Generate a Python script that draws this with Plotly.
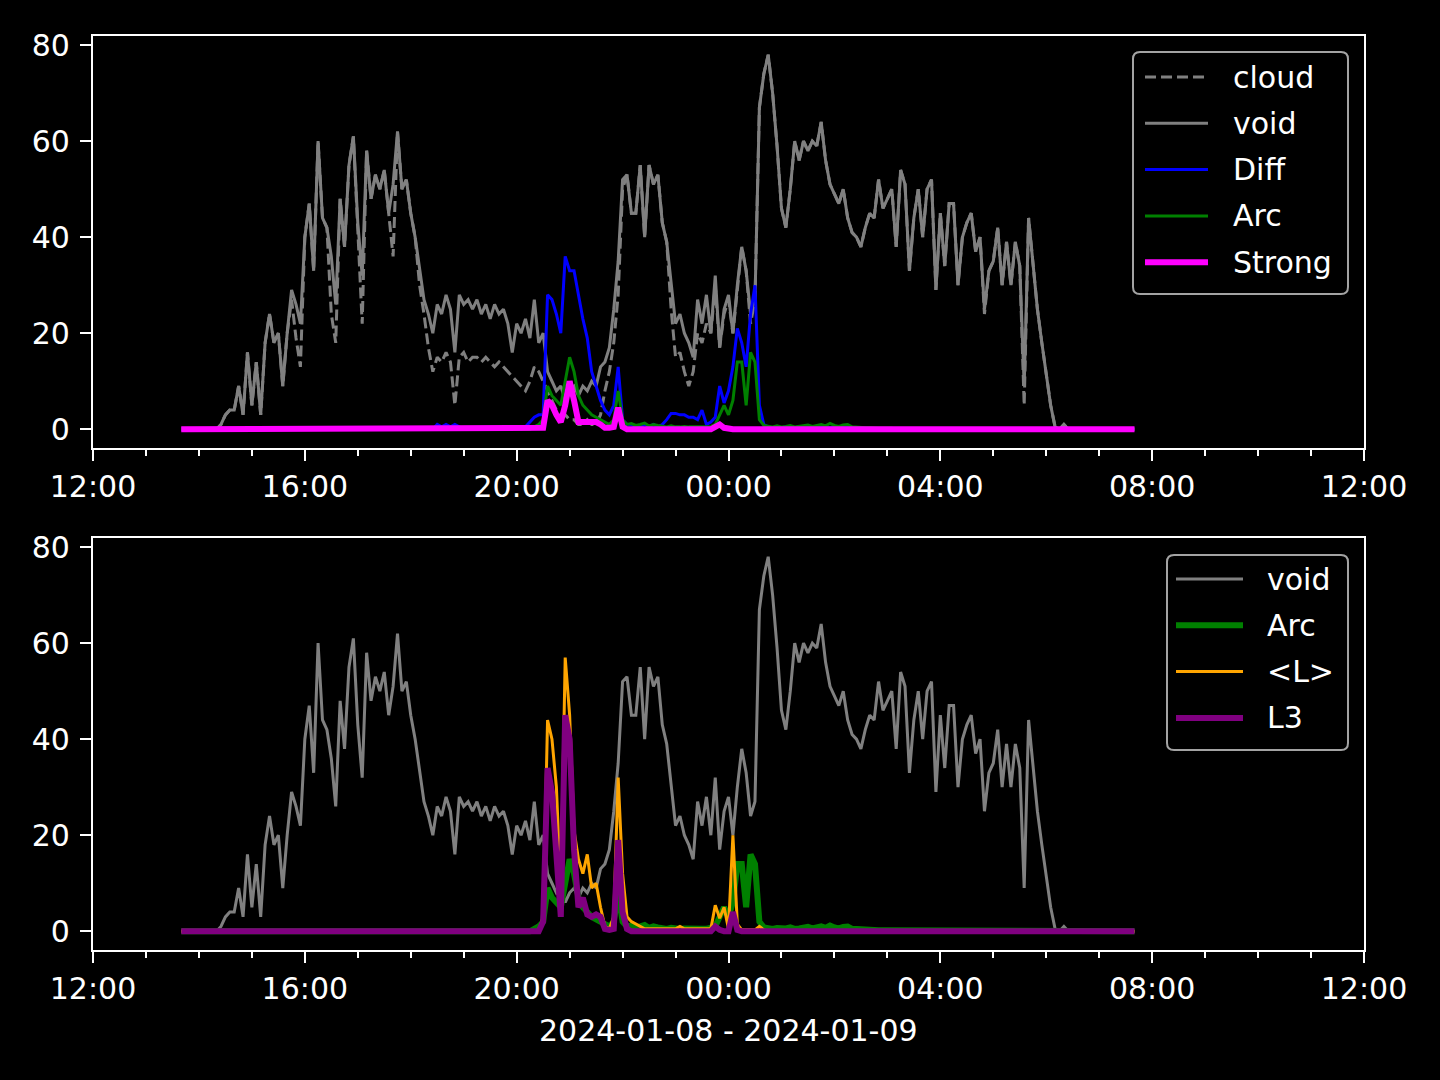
import pandas as pd
import plotly.graph_objects as go
from plotly.subplots import make_subplots

# ---------------- data (5-minute samples, 13:40 on 2024-01-08 to 07:40 on 2024-01-09) ----------------
start_time = "2024-01-08 13:40"
sample_step = "5min"

# each row = one hour (12 samples)
void = [
    0, 0, 0, 0, 0, 0, 0, 0, 0, 1, 3, 4,
    4, 9, 3, 16, 5, 14, 3, 18, 24, 18, 20, 9,
    20, 29, 26, 22, 40, 47, 33, 60, 44, 42, 36, 26,
    48, 38, 55, 61, 43, 32, 58, 48, 53, 50, 54, 45,
    51, 62, 50, 52, 45, 40, 33, 27, 24, 20, 26, 24,
    28, 25, 16, 28, 26, 27, 25, 27, 24, 26, 23, 26,
    24, 25, 22, 16, 22, 20, 23, 19, 27, 18, 20, 12,
    10, 8, 9, 6, 8, 9, 7, 9, 8, 10, 9, 13,
    14, 17, 25, 35, 52, 53, 45, 45, 55, 40, 55, 51,
    53, 43, 39, 30, 22, 24, 20, 18, 15, 27, 22, 28,
    20, 32, 17, 25, 28, 20, 30, 38, 33, 24, 27, 67,
    74, 78, 70, 59, 46, 42, 50, 60, 56, 60, 58, 60,
    59, 64, 56, 51, 49, 47, 50, 44, 41, 40, 38, 42,
    45, 44, 52, 46, 48, 50, 38, 54, 51, 33, 44, 50,
    40, 50, 52, 29, 45, 34, 47, 47, 30, 40, 43, 45,
    37, 40, 25, 33, 35, 42, 30, 39, 30, 39, 34, 9,
    44, 35, 25, 18, 12, 5, 0.5, 0, 1, 0, 0, 0,
    0, 0, 0, 0, 0, 0, 0, 0, 0, 0, 0, 0,
    0,
]

cloud = [
    0, 0, 0, 0, 0, 0, 0, 0, 0, 1, 3, 4,
    4, 9, 3, 16, 5, 14, 3, 18, 24, 18, 20, 9,
    20, 27, 19, 13, 40, 47, 33, 60, 44, 42, 24, 18,
    48, 38, 55, 61, 40, 22, 58, 48, 53, 50, 54, 45,
    36, 62, 50, 52, 45, 40, 30, 24, 17, 12, 15, 14,
    16, 14, 5, 15, 16, 14, 15, 15, 14, 15, 14, 13,
    14, 13, 12, 11, 10, 9, 8, 10, 13, 12, 10, 8,
    6, 4, 3, 3, 2, 2, 1, 1, 2, 1, 1, 3,
    8, 12, 18, 28, 50, 53, 45, 45, 55, 40, 55, 51,
    53, 43, 39, 25, 15, 16, 12, 9, 12, 20, 18, 22,
    20, 30, 17, 24, 27, 20, 29, 38, 33, 22, 27, 67,
    74, 78, 70, 59, 46, 42, 50, 60, 56, 60, 58, 60,
    59, 64, 56, 51, 49, 47, 50, 44, 41, 40, 38, 42,
    45, 44, 52, 46, 48, 50, 38, 54, 51, 33, 44, 50,
    40, 50, 52, 29, 45, 34, 47, 47, 30, 40, 43, 45,
    37, 40, 24, 33, 35, 42, 30, 39, 30, 39, 34, 5,
    44, 35, 25, 18, 12, 5, 0.5, 0, 1, 0, 0, 0,
    0, 0, 0, 0, 0, 0, 0, 0, 0, 0, 0, 0,
    0,
]

diff = [
    0, 0, 0, 0, 0, 0, 0, 0, 0, 0, 0, 0,
    0, 0, 0, 0, 0, 0, 0, 0, 0, 0, 0, 0,
    0, 0, 0, 0, 0, 0, 0, 0, 0, 0, 0, 0,
    0, 0, 0, 0, 0, 0, 0, 0, 0, 0, 0, 0,
    0, 0, 0, 0, 0, 0, 0, 0, 0, 0, 1, 0.5,
    1, 0.5, 1, 0.5, 0, 0, 0, 0, 0, 0, 0, 0,
    0, 0, 0, 0, 0.3, 0, 0.5, 1.5, 2.5, 3, 3, 28,
    27, 24, 20, 36, 33, 33, 28, 23, 19, 12, 9, 6,
    4, 3, 5, 13, 2, 1, 1, 0.5, 0.5, 1, 0.5, 1,
    0.5, 1, 2, 3.3, 3.3, 3, 3, 2.5, 2.5, 2, 4, 1,
    1.5, 2.5, 9, 5.5, 8, 13, 21, 18, 13, 24, 30, 5,
    1, 0.5, 0.3, 0.3, 0.3, 0.5, 0.3, 0.3, 0.5, 0.3, 0.3, 0.3,
    0.3, 0.3, 0.3, 0.3, 0.3, 0.5, 0.3, 0.3, 0.3, 0.2, 0.2, 0.2,
    0, 0, 0, 0, 0, 0, 0, 0, 0, 0, 0, 0,
    0, 0, 0, 0, 0, 0, 0, 0, 0, 0, 0, 0,
    0, 0, 0, 0, 0, 0, 0, 0, 0, 0, 0, 0,
    0, 0, 0, 0, 0, 0, 0, 0, 0, 0, 0, 0,
    0, 0, 0, 0, 0, 0, 0, 0, 0, 0, 0, 0,
    0,
]

arc = [
    0, 0, 0, 0, 0, 0, 0, 0, 0, 0, 0, 0,
    0, 0, 0, 0, 0, 0, 0, 0, 0, 0, 0, 0,
    0, 0, 0, 0, 0, 0, 0, 0, 0, 0, 0, 0,
    0, 0, 0, 0, 0, 0, 0, 0, 0, 0, 0, 0,
    0, 0, 0, 0, 0, 0, 0, 0, 0, 0, 0, 0,
    0, 0, 0, 0, 0, 0, 0, 0, 0, 0, 0, 0,
    0, 0, 0, 0, 0, 0, 0, 0, 0.5, 1, 2, 9,
    7, 6, 5, 10, 15, 12, 7, 5, 4, 3, 2.5, 2,
    1.5, 1, 2, 8, 2, 1, 1.2, 0.8, 1, 1.3, 0.7, 1,
    0.8, 0.6, 0.5, 0.7, 0.5, 0.5, 0.6, 0.5, 0.5, 0.6, 0.5, 0.5,
    0.6, 1, 3, 5, 3, 6, 14, 14, 5, 16, 14, 2,
    0.8, 0.6, 0.5, 0.7, 0.5, 0.6, 0.8, 0.5, 0.6, 0.7, 0.9, 0.6,
    0.8, 1, 0.7, 1.2, 0.8, 0.6, 0.9, 1, 0.5, 0.4, 0.3, 0.3,
    0.3, 0.2, 0.2, 0.2, 0.2, 0.2, 0, 0, 0, 0, 0, 0,
    0, 0, 0, 0, 0, 0, 0, 0, 0, 0, 0, 0,
    0, 0, 0, 0, 0, 0, 0, 0, 0, 0, 0, 0,
    0, 0, 0, 0, 0, 0, 0, 0, 0, 0, 0, 0,
    0, 0, 0, 0, 0, 0, 0, 0, 0, 0, 0, 0,
    0,
]

strong = [
    0, 0, 0, 0, 0, 0, 0, 0, 0, 0, 0, 0,
    0, 0, 0, 0, 0, 0, 0, 0, 0, 0, 0, 0,
    0, 0, 0, 0, 0, 0, 0, 0, 0, 0, 0, 0,
    0, 0, 0, 0, 0, 0, 0, 0, 0, 0, 0, 0,
    0, 0, 0, 0, 0, 0, 0, 0, 0, 0, 0, 0,
    0, 0, 0, 0, 0, 0, 0, 0, 0, 0, 0, 0,
    0, 0, 0, 0, 0, 0, 0, 0, 0, 0, 0.3, 6,
    5, 3, 1.5, 5, 10, 6, 1.5, 1.5, 1.5, 1.7, 1.5, 1,
    0.3, 0.3, 0.5, 4.5, 0.5, 0, 0, 0, 0, 0, 0, 0,
    0, 0, 0, 0, 0, 0, 0, 0, 0, 0, 0, 0,
    0, 0.5, 1, 0.3, 0, 0, 0, 0, 0, 0, 0, 0,
    0, 0, 0, 0, 0, 0, 0, 0, 0, 0, 0, 0,
    0, 0, 0, 0, 0, 0, 0, 0, 0, 0, 0, 0,
    0, 0, 0, 0, 0, 0, 0, 0, 0, 0, 0, 0,
    0, 0, 0, 0, 0, 0, 0, 0, 0, 0, 0, 0,
    0, 0, 0, 0, 0, 0, 0, 0, 0, 0, 0, 0,
    0, 0, 0, 0, 0, 0, 0, 0, 0, 0, 0, 0,
    0, 0, 0, 0, 0, 0, 0, 0, 0, 0, 0, 0,
    0,
]

mean_l = [
    0, 0, 0, 0, 0, 0, 0, 0, 0, 0, 0, 0,
    0, 0, 0, 0, 0, 0, 0, 0, 0, 0, 0, 0,
    0, 0, 0, 0, 0, 0, 0, 0, 0, 0, 0, 0,
    0, 0, 0, 0, 0, 0, 0, 0, 0, 0, 0, 0,
    0, 0, 0, 0, 0, 0, 0, 0, 0, 0, 0, 0,
    0, 0, 0, 0, 0, 0, 0, 0, 0, 0, 0, 0,
    0, 0, 0, 0, 0, 0, 0, 0, 0, 0, 3, 44,
    40, 30, 8, 57, 45, 21, 15, 12, 16, 9, 10, 5,
    1, 0.5, 3, 32, 12, 3, 2, 1.5, 1, 0.5, 0.5, 0.5,
    0.5, 0.5, 0.5, 0.5, 0.5, 1, 0.5, 0.5, 0.5, 0.5, 0.5, 0.5,
    0.5, 5.4, 2.7, 5, 0.5, 20, 1.5, 0.3, 0.3, 0.3, 0.3, 1,
    0.3, 0, 0, 0, 0, 0, 0, 0, 0, 0, 0, 0,
    0, 0, 0, 0, 0, 0, 0, 0, 0, 0, 0, 0,
    0, 0, 0, 0, 0, 0, 0, 0, 0, 0, 0, 0,
    0, 0, 0, 0, 0, 0, 0, 0, 0, 0, 0, 0,
    0, 0, 0, 0, 0, 0, 0, 0, 0, 0, 0, 0,
    0, 0, 0, 0, 0, 0, 0, 0, 0, 0, 0, 0,
    0, 0, 0, 0, 0, 0, 0, 0, 0, 0, 0, 0,
    0,
]

l3 = [
    0, 0, 0, 0, 0, 0, 0, 0, 0, 0, 0, 0,
    0, 0, 0, 0, 0, 0, 0, 0, 0, 0, 0, 0,
    0, 0, 0, 0, 0, 0, 0, 0, 0, 0, 0, 0,
    0, 0, 0, 0, 0, 0, 0, 0, 0, 0, 0, 0,
    0, 0, 0, 0, 0, 0, 0, 0, 0, 0, 0, 0,
    0, 0, 0, 0, 0, 0, 0, 0, 0, 0, 0, 0,
    0, 0, 0, 0, 0, 0, 0, 0, 0, 0, 2, 34,
    29, 17, 3, 45, 40, 17, 5, 7, 3.5, 3, 3.5, 3,
    0.5, 0.3, 0.5, 19, 4, 0.5, 0, 0, 0, 0, 0, 0,
    0, 0, 0, 0, 0, 0, 0, 0, 0, 0, 0, 0,
    0, 1, 0.3, 0, 0, 4, 0.3, 0, 0, 0, 0, 0,
    0, 0, 0, 0, 0, 0, 0, 0, 0, 0, 0, 0,
    0, 0, 0, 0, 0, 0, 0, 0, 0, 0, 0, 0,
    0, 0, 0, 0, 0, 0, 0, 0, 0, 0, 0, 0,
    0, 0, 0, 0, 0, 0, 0, 0, 0, 0, 0, 0,
    0, 0, 0, 0, 0, 0, 0, 0, 0, 0, 0, 0,
    0, 0, 0, 0, 0, 0, 0, 0, 0, 0, 0, 0,
    0, 0, 0, 0, 0, 0, 0, 0, 0, 0, 0, 0,
    0,
]

y_ticks = [0, 20, 40, 60, 80]
x_range = ["2024-01-08 12:00", "2024-01-09 12:00"]
x_label = "2024-01-08 - 2024-01-09"

# ---------------- figure ----------------
times = pd.date_range(start_time, periods=len(void), freq=sample_step)

FONT = "DejaVu Sans"
FS = 30
W, H = 1440, 1080
ML, MR, MT, MB = 93, 76, 36, 130
PW = W - ML - MR
PH = H - MT - MB


def fx(px):
    return (px - ML) / PW


def fy(py):
    return 1 - (py - MT) / PH


fig = make_subplots(rows=2, cols=1, vertical_spacing=(538 - 448) / PH)

top = [
    ("cloud", cloud, "#808080", 3, "11px,5px"),
    ("void", void, "#808080", 3, "solid"),
    ("Diff", diff, "#0000ff", 3, "solid"),
    ("Arc", arc, "#008000", 3, "solid"),
    ("Strong", strong, "#ff00ff", 6, "solid"),
]
for name, ys, col, w, dash in top:
    fig.add_trace(go.Scatter(x=times, y=ys, mode="lines", name=name, showlegend=False,
                             line=dict(color=col, width=w, dash=dash)), row=1, col=1)

bottom = [
    ("void", void, "#808080", 3, "solid"),
    ("Arc", arc, "#008000", 6, "solid"),
    ("<L>", mean_l, "#ffa500", 3, "solid"),
    ("L3", l3, "#800080", 6, "solid"),
]
for name, ys, col, w, dash in bottom:
    fig.add_trace(go.Scatter(x=times, y=ys, mode="lines", name=name, showlegend=False,
                             line=dict(color=col, width=w, dash=dash)), row=2, col=1)

axis_common = dict(showline=True, linecolor="white", linewidth=2.2, mirror=True,
                   ticks="outside", tickcolor="white", tickwidth=2.2, ticklen=11,
                   showgrid=False, zeroline=False,
                   tickfont=dict(family=FONT, size=FS, color="white"))

for r in (1, 2):
    fig.update_xaxes(type="date", range=x_range, tickformat="%H:%M",
                     tick0="2024-01-08 12:00", dtick=4 * 3600000,
                     minor=dict(dtick=3600000, ticks="outside", ticklen=6,
                                tickwidth=2, tickcolor="white", showgrid=False),
                     row=r, col=1, **axis_common)
    fig.update_yaxes(range=[-3.9, 81.9], tickvals=y_ticks, row=r, col=1,
                     ticklabelstandoff=4, **axis_common)

# ---------------- legends (matplotlib-style boxes) ----------------
shapes = []
annotations = []


def rounded_box(x0, y0, x1, y1, r=7):
    p = [
        f"M{fx(x0 + r)},{fy(y0)}", f"L{fx(x1 - r)},{fy(y0)}",
        f"Q{fx(x1)},{fy(y0)} {fx(x1)},{fy(y0 + r)}", f"L{fx(x1)},{fy(y1 - r)}",
        f"Q{fx(x1)},{fy(y1)} {fx(x1 - r)},{fy(y1)}", f"L{fx(x0 + r)},{fy(y1)}",
        f"Q{fx(x0)},{fy(y1)} {fx(x0)},{fy(y1 - r)}", f"L{fx(x0)},{fy(y0 + r)}",
        f"Q{fx(x0)},{fy(y0)} {fx(x0 + r)},{fy(y0)}", "Z",
    ]
    return dict(type="path", xref="paper", yref="paper", path=" ".join(p),
                fillcolor="black", line=dict(color="#a3a3a3", width=2), layer="above")


def legend_block(entries, box, line_x0, line_x1, text_x, y_first, y_step):
    shapes.append(rounded_box(*box))
    for k, (name, _, col, w, dash) in enumerate(entries):
        yc = y_first + k * y_step
        shapes.append(dict(type="line", xref="paper", yref="paper",
                           x0=fx(line_x0), x1=fx(line_x1), y0=fy(yc), y1=fy(yc),
                           line=dict(color=col, width=w, dash=dash), layer="above"))
        annotations.append(dict(text=name.replace("<", "&lt;").replace(">", "&gt;"),
                                x=fx(text_x), y=fy(yc), xref="paper", yref="paper",
                                xanchor="left", yanchor="middle", showarrow=False,
                                font=dict(family=FONT, size=FS, color="white")))


legend_block(top, (1133, 52, 1348, 294), 1145, 1208, 1231, 77, 46.3)
legend_block(bottom, (1167, 555, 1348, 750), 1176, 1243, 1265, 579, 46.3)

annotations.append(dict(text=x_label, x=0.5, xref="paper", y=fy(1030), yref="paper",
                        xanchor="center", yanchor="middle", showarrow=False,
                        font=dict(family=FONT, size=FS, color="white")))

fig.update_layout(
    width=W, height=H,
    margin=dict(l=ML, r=MR, t=MT, b=MB),
    paper_bgcolor="black", plot_bgcolor="black",
    font=dict(family=FONT, size=FS, color="white"),
    showlegend=False,
    shapes=shapes,
    annotations=annotations,
)

fig.write_html(
    "out.html",
    config={"displayModeBar": False},
    post_script="document.body.style.margin='0';document.body.style.background='black';",
)
